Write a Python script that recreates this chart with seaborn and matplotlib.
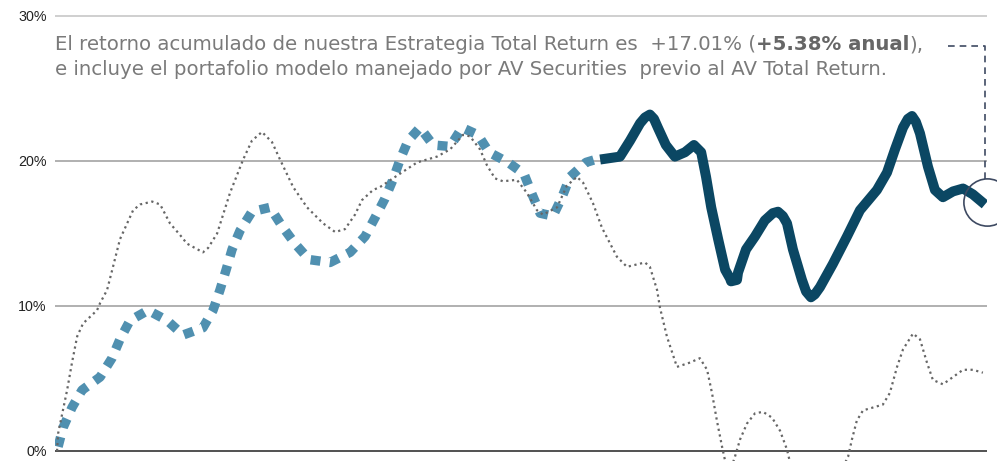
import matplotlib
matplotlib.use("Agg")
import matplotlib.pyplot as plt
import seaborn as sns
import pandas as pd

# ---------------- data (months since start, cumulative return %) ----------------
bench_x = [0.00, 0.04, 0.39, 0.58, 0.78, 1.01, 1.55, 1.67, 1.94, 2.17, 2.44, 2.95, 3.22, 3.69,
           4.00, 4.38, 4.77, 5.04, 5.66, 5.86, 6.21, 6.71, 7.22, 7.56, 7.95, 8.34, 8.65, 9.16,
           9.70, 10.32, 10.79, 11.17, 11.56, 11.83, 12.26, 12.53, 13.03, 13.97, 14.74, 15.25,
           15.75, 16.02, 16.41, 16.68, 16.99, 17.30, 17.84, 18.23, 18.62, 18.85, 19.40, 19.78,
           20.17, 20.41, 20.79, 21.14, 21.72, 22.11, 22.81, 23.00, 23.28, 23.39, 23.66, 24.05,
           24.56, 24.94, 25.22, 25.41, 25.60, 25.80, 25.91, 26.15, 26.30, 26.50, 26.77, 27.08,
           27.39, 27.74, 28.05, 28.32, 28.44, 29.02, 29.60, 30.18, 30.69, 30.84, 31.03, 31.27,
           31.66, 32.04, 32.31, 32.59, 32.82, 33.21, 33.48, 33.75, 33.98, 34.37, 34.76, 35.15,
           35.53, 35.92]
bench_y = [0.0, 1.2, 4.2, 6.1, 7.9, 8.8, 9.7, 10.2, 11.1, 12.7, 14.6, 16.6, 17.0, 17.2,
           17.0, 15.7, 14.9, 14.3, 13.7, 14.0, 15.0, 17.8, 20.1, 21.4, 22.0, 21.3, 20.1, 18.2,
           16.8, 15.7, 15.1, 15.3, 16.3, 17.3, 18.0, 18.2, 18.8, 19.9, 20.3, 20.8,
           21.8, 21.7, 20.8, 19.7, 18.8, 18.6, 18.7, 17.8, 16.6, 16.3, 16.8, 18.3,
           18.9, 18.5, 17.1, 15.4, 13.4, 12.7, 13.0, 12.7, 11.1, 9.9, 7.9, 5.8,
           6.1, 6.4, 5.6, 4.0, 2.1, 0.3, -0.6, -1.2, -0.4, 0.8, 1.9, 2.6,
           2.7, 2.3, 1.4, 0.1, -0.8, -2.5, -3.0, -2.2, -0.4, 0.8, 2.1, 2.8,
           3.0, 3.2, 4.0, 5.8, 7.0, 8.1, 7.7, 6.1, 4.9, 4.6, 5.1, 5.6,
           5.6, 5.4]

model_x = [0.04, 0.23, 0.58, 0.97, 1.67, 2.13, 2.44, 2.83, 3.53, 4.27, 4.89, 5.66, 6.05,
           6.32, 6.56, 6.79, 7.10, 7.56, 8.26, 8.73, 9.23, 9.78, 10.59, 11.37, 11.95, 12.34,
           12.72, 13.03, 13.31, 13.62, 14.08, 14.59, 15.25, 15.71, 16.33, 16.76, 17.50,
           18.12, 18.43, 18.74, 19.24, 19.59, 19.90, 20.52, 21.07]
model_y = [0.3, 1.6, 3.0, 4.2, 5.1, 6.4, 7.7, 9.0, 9.7, 9.0, 8.0, 8.5, 9.7,
           11.1, 12.5, 13.9, 15.2, 16.5, 16.8, 15.5, 14.3, 13.2, 13.0, 13.7, 14.8, 16.1,
           17.4, 18.7, 20.1, 21.4, 22.3, 21.1, 21.0, 22.3, 21.8, 20.6, 19.9,
           19.1, 17.7, 16.4, 16.2, 17.5, 18.9, 19.9, 20.2]

tr_x = [21.07, 21.84, 22.23, 22.62, 22.81, 23.00, 23.16, 23.31, 23.62, 23.97, 24.36, 24.71,
        24.99, 25.18, 25.38, 25.65, 25.92, 26.11, 26.15, 26.38, 26.42, 26.73, 27.08, 27.46,
        27.77, 27.97, 28.16, 28.32, 28.55, 28.90, 29.06, 29.25, 29.40, 29.60, 30.10, 30.65,
        31.15, 31.81, 32.20, 32.51, 32.82, 33.01, 33.17, 33.32, 33.48, 33.79, 34.06, 34.37,
        34.76, 35.15, 35.53, 36.00]
tr_y = [20.1, 20.3, 21.4, 22.6, 23.0, 23.2, 22.9, 22.3, 21.1, 20.3, 20.6, 21.1,
        20.6, 18.9, 16.8, 14.6, 12.5, 11.9, 11.7, 11.8, 12.3, 13.9, 14.8, 15.9,
        16.4, 16.5, 16.2, 15.7, 13.9, 11.8, 11.0, 10.6, 10.8, 11.3, 12.9, 14.8,
        16.6, 18.0, 19.2, 20.8, 22.3, 22.9, 23.1, 22.7, 21.9, 19.6, 18.0, 17.5,
        17.9, 18.1, 17.7, 17.0]

y_ticks = [0, 10, 20, 30]
y_tick_labels = ["0%", "10%", "20%", "30%"]

text_line1_a = "El retorno acumulado de nuestra Estrategia Total Return es  +17.01% ("
text_line1_b = "+5.38% anual"
text_line1_c = "),"
text_line2 = "e incluye el portafolio modelo manejado por AV Securities  previo al AV Total Return."

# ---------------- style ----------------
sns.set_theme(style="white")
plt.rcParams["font.family"] = ["Liberation Sans", "DejaVu Sans"]

W, H, DPI = 997, 461, 100
fig = plt.figure(figsize=(W / DPI, H / DPI), dpi=DPI)
ax = fig.add_axes([55 / W, 0, (987 - 55) / W, 1])

C_BENCH = "#666666"
C_MODEL = "#5090b0"
C_TR = "#0b4763"
C_NOTE = "#3e4a62"
C_TEXT = "#7a7a7a"

bench = pd.DataFrame({"mes": bench_x, "ret": bench_y})
model = pd.DataFrame({"mes": model_x, "ret": model_y})
tr = pd.DataFrame({"mes": tr_x, "ret": tr_y})

sns.lineplot(data=model, x="mes", y="ret", ax=ax, color=C_MODEL, lw=6.8,
             linestyle=(0, (1.05, 1.0)), estimator=None, sort=False, zorder=3)
sns.lineplot(data=bench, x="mes", y="ret", ax=ax, color=C_BENCH, lw=1.6,
             linestyle=(0, (1, 1.6)), estimator=None, sort=False, zorder=4)
sns.lineplot(data=tr, x="mes", y="ret", ax=ax, color=C_TR, lw=7.2,
             solid_capstyle="butt", solid_joinstyle="round",
             estimator=None, sort=False, zorder=5)

# axes limits and grid
ax.set_xlim(-0.08, 36.08)
ax.set_ylim(-0.69, 31.1)
ax.set_yticks(y_ticks)
ax.set_yticklabels(y_tick_labels)
ax.set_xticks([])
ax.set_xlabel("")
ax.set_ylabel("")
for s in ax.spines.values():
    s.set_visible(False)
ax.tick_params(axis="y", length=0, pad=6, labelsize=10.3, labelcolor="#222222")
ax.grid(axis="y", color="#aaaaaa", lw=1.3)
ax.grid(axis="x", visible=False)
glines = ax.get_ygridlines()
glines[0].set_color("#333333")
glines[0].set_linewidth(1.2)
glines[-1].set_color("#cccccc")
ax.set_axisbelow(True)

# annotation: circle at the end point and dashed connector to the note
end_x, end_y = tr_x[-1], tr_y[-1]
ax.plot([end_x + 0.08], [end_y + 0.2], marker="o", ms=34, mfc="none", mec=C_NOTE, mew=1.2,
        clip_on=False, zorder=6)
note_y = 27.9
ax.plot([34.56, end_x, end_x], [note_y, note_y, end_y + 1.75], color=C_NOTE, lw=1.2,
        linestyle=(0, (4, 3)), clip_on=False, zorder=6)

# note text (fit first line to the reference width)
fam = ["DejaVu Sans"]
tf = ax.get_yaxis_transform()
r = fig.canvas.get_renderer()
inv = ax.transAxes.inverted()


def place_line1(fs):
    parts = [(text_line1_a, "normal", C_TEXT), (text_line1_b, "bold", "#666666"),
             (text_line1_c, "normal", C_TEXT)]
    x = 0.0
    objs = []
    for s, w, c in parts:
        t = ax.text(x, 28.0, s, color=c, fontsize=fs, family=fam, weight=w,
                    va="center", ha="left", transform=tf)
        bb = t.get_window_extent(r)
        x = inv.transform((bb.x1, bb.y0))[0]
        objs.append(t)
    total_px = objs[-1].get_window_extent(r).x1 - objs[0].get_window_extent(r).x0
    return objs, total_px


objs, width = place_line1(14.0)
fs = 14.0 * 875.0 / width
for o in objs:
    o.remove()
place_line1(fs)
ax.text(0.0, 26.3, text_line2, color=C_TEXT, fontsize=fs, family=fam,
        va="center", ha="left", transform=tf)

fig.savefig("out.png", dpi=DPI)
